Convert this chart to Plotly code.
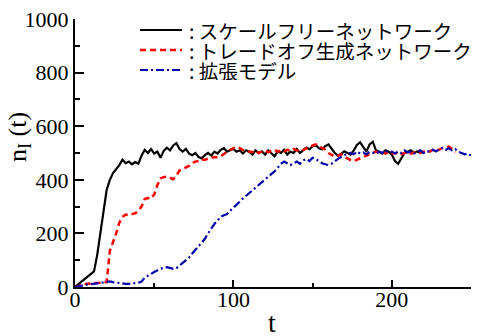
import plotly.graph_objects as go

# --- data ---
t_step = 2
black_vals = [0, 10, 19, 29, 38, 48, 58, 119, 200, 267, 363, 400, 425, 440, 455,
              475, 462, 468, 458, 466, 460, 490, 512, 500, 515, 498, 505, 482, 508, 520,
              510, 528, 537, 515, 505, 515, 498, 492, 500, 485, 480, 492, 500, 490, 505,
              498, 512, 518, 505, 510, 515, 505, 510, 498, 510, 505, 494, 510, 500, 506,
              494, 510, 500, 488, 506, 500, 512, 494, 505, 500, 515, 500, 510, 520, 514,
              525, 530, 518, 514, 526, 532, 515, 500, 490, 496, 506, 500, 494, 510, 530,
              540, 520, 505, 532, 542, 510, 505, 498, 510, 505, 494, 470, 460, 482, 500,
              505, 510, 500, 506, 500]
red_vals = [0, 4, 7, 10, 12, 14, 15, 15, 16, 17, 18, 135, 165, 200, 240,
            262, 270, 268, 272, 275, 285, 300, 328, 332, 330, 345, 380, 405, 410, 412,
            408, 402, 415, 435, 440, 445, 452, 462, 468, 470, 476, 474, 480, 482, 485,
            484, 488, 496, 505, 512, 518, 522, 518, 510, 505, 506, 503, 508, 500, 505,
            510, 503, 507, 512, 505, 510, 505, 512, 508, 515, 510, 506, 512, 518, 522,
            528, 532, 525, 520, 512, 500, 492, 486, 490, 495, 485, 478, 474, 470, 475,
            478, 485, 490, 495, 500, 505, 500, 504, 498, 505, 500, 498, 502, 496, 500,
            505, 498, 502, 505, 500, 506, 510, 505, 512, 508, 514, 518, 522, 524, 515,
            502]
blue_vals = [0, 3, 6, 8, 10, 11, 12, 13, 15, 17, 19, 21, 18, 16, 14,
             13, 12, 12, 13, 14, 16, 20, 35, 42, 50, 56, 62, 68, 72, 74,
             72, 68, 70, 80, 92, 100, 110, 125, 140, 152, 165, 180, 200, 220, 235,
             248, 262, 268, 272, 285, 295, 305, 318, 330, 340, 352, 362, 372, 382, 392,
             400, 412, 420, 432, 445, 460, 468, 462, 455, 462, 468, 460, 472, 478, 470,
             482, 478, 470, 462, 458, 455, 460, 470, 478, 485, 492, 498, 500, 495, 505,
             498, 502, 495, 505, 500, 498, 505, 500, 510, 502, 505, 498, 506, 500, 510,
             502, 505, 498, 505, 510, 500, 508, 504, 512, 506, 515, 520, 512, 518, 510,
             515, 505, 500, 495, 498, 490]
names = [": スケールフリーネットワーク", ": トレードオフ生成ネットワーク", ": 拡張モデル"]
colors = ["black", "#ff0000", "#0000a8"]
dashes = ["solid", "6px,4px", "8px,3px,2px,3px"]
widths = [2.2, 2.5, 2.2]
x_ticks = [0, 100, 200]
y_ticks = [0, 200, 400, 600, 800, 1000]

def tgrid(vals):
    return [i * t_step for i in range(len(vals))]

fig = go.Figure()
for vals, nm, c, d, w in zip([black_vals, red_vals, blue_vals], names, colors, dashes, widths):
    fig.add_trace(go.Scatter(x=tgrid(vals), y=vals, mode="lines", name=nm,
                             line=dict(color=c, width=w, dash=d)))

# plot-area geometry (pixels) used to place the hand-made legend and titles
W, H = 477, 336
ML, MR, MT, MB = 75, 6, 19, 49
pw, ph = W - ML - MR, H - MT - MB
def px(xp):
    return (xp - ML) / pw
def py(yp):
    return (H - MB - yp) / ph

shapes = []
annotations = []
for i, (nm, c, d, w) in enumerate(zip(names, colors, dashes, widths)):
    yrow = 30 + 20 * i
    shapes.append(dict(type="line", xref="paper", yref="paper",
                       x0=px(140), x1=px(182), y0=py(yrow), y1=py(yrow),
                       line=dict(color=c, width=w, dash=d)))
    annotations.append(dict(text=nm, xref="paper", yref="paper", x=px(187), y=py(yrow),
                            xanchor="left", yanchor="middle", showarrow=False,
                            height=20, valign="middle",
                            font=dict(family="Noto Sans CJK JP", size=19.5, color="black")))

serif = "Liberation Serif"
annotations.append(dict(text="n<sub>I</sub> (t)", xref="paper", yref="paper",
                        x=px(19), y=py(137), xanchor="center", yanchor="middle",
                        textangle=-90, showarrow=False,
                        font=dict(family=serif, size=26, color="black")))
annotations.append(dict(text="t", xref="paper", yref="paper",
                        x=px(272), y=py(322), xanchor="center", yanchor="middle",
                        height=26, valign="middle",
                        showarrow=False, font=dict(family=serif, size=28, color="black")))

fig.update_layout(
    width=W, height=H,
    margin=dict(l=ML, r=MR, t=MT, b=MB, pad=0, autoexpand=False),
    paper_bgcolor="white", plot_bgcolor="white",
    showlegend=False,
    xaxis=dict(range=[0, 250], tickvals=x_ticks, ticks="inside", ticklen=7, tickwidth=2,
               tickcolor="black", showline=True, linewidth=2, linecolor="black",
               showgrid=False, zeroline=False, automargin=False, ticklabelstandoff=-8,
               minor=dict(dtick=50, tick0=0, ticks="inside", ticklen=4, tickwidth=2, tickcolor="black"),
               tickfont=dict(family=serif, size=22, color="black")),
    yaxis=dict(range=[0, 1000], tickvals=y_ticks, ticks="inside", ticklen=9, tickwidth=2,
               tickcolor="black", showline=True, linewidth=2, linecolor="black",
               showgrid=False, zeroline=False, automargin=False,
               minor=dict(dtick=100, tick0=0, ticks="inside", ticklen=5, tickwidth=2, tickcolor="black"),
               tickfont=dict(family=serif, size=22, color="black")),
    shapes=shapes,
    annotations=annotations,
)

fig.write_html("out.html")
